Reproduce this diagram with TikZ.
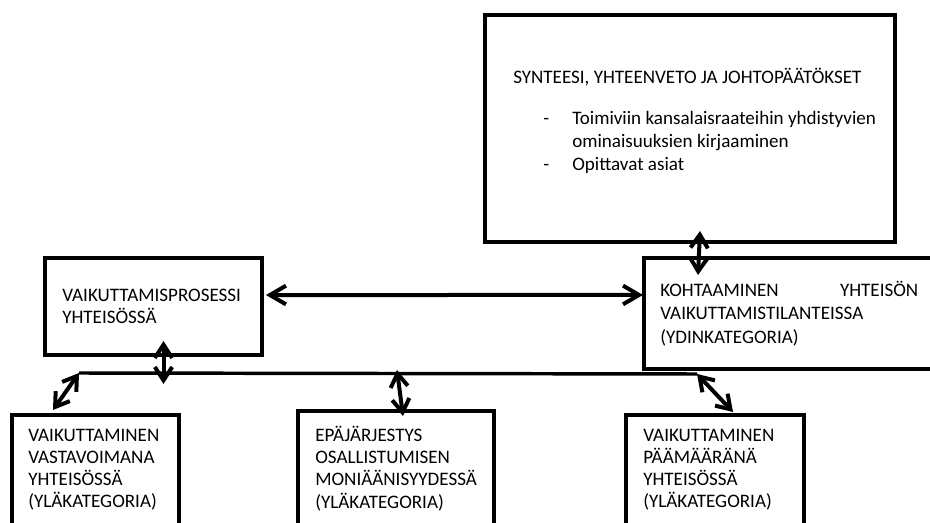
\documentclass[tikz,border=0pt]{standalone}
\usepackage{fontspec}
\setmainfont{Carlito}
\usetikzlibrary{arrows.meta}
\begin{document}
\begin{tikzpicture}[x=0.75pt,y=-0.75pt,
  box/.style={draw,line width=3pt,inner sep=0pt,anchor=north west,rectangle},
  txt/.style={inner sep=0pt,anchor=west,align=left,font=\fontsize{14.3pt}{16.6pt}\selectfont},
  txtwide/.style={inner sep=0pt,anchor=west,align=left,font=\fontsize{14.3pt}{17.4pt}\selectfont},
  dblS/.style={line width=3pt,{Straight Barb[length=10pt,width=13pt]}-{Straight Barb[length=10pt,width=13pt]}},
  dblL/.style={line width=3pt,{Straight Barb[length=12pt,width=14pt]}-{Straight Barb[length=12pt,width=14pt]}},
  busline/.style={line width=2.6pt}]
\useasboundingbox (0,0) rectangle (930,523);
\clip (0,0) rectangle (930,523);
\fill[white] (0,0) rectangle (930,523);

% boxes
\node[box,minimum width=307.5pt,minimum height=170.25pt] (syn) at (483,13) {};
\node[box,minimum width=162.75pt,minimum height=72.75pt] (proc) at (43,256) {};
\node[box,minimum width=225pt,minimum height=83.25pt] (koh) at (642,256) {};
\node[box,minimum width=125.25pt,minimum height=112.5pt] (b1) at (10,413) {};
\node[box,minimum width=147pt,minimum height=112.5pt] (b2) at (296,409) {};
\node[box,minimum width=133.5pt,minimum height=112.5pt] (b3) at (624,413) {};

% texts
\node[txtwide] (ts) at (513,121) {SYNTEESI, YHTEENVETO JA JOHTOPÄÄTÖKSET\\[13.4pt]
\makebox[44.25pt][l]{\hspace{22.5pt}-}Toimiviin kansalaisraateihin yhdistyvien\\
\hspace*{44.25pt}ominaisuuksien kirjaaminen\\
\makebox[44.25pt][l]{\hspace{22.5pt}-}Opittavat asiat};
\node[txt] (tp) at (62,306) {VAIKUTTAMISPROSESSI\\YHTEISÖSSÄ};
\node[txtwide,text width=193.5pt] (tk) at (660,313.5) {KOHTAAMINEN\hfill YHTEISÖN\\VAIKUTTAMISTILANTEISSA\\(YDINKATEGORIA)};
\node[txt] (t1) at (28,470) {VAIKUTTAMINEN\\VASTAVOIMANA\\YHTEISÖSSÄ\\(YLÄKATEGORIA)};
\node[txt] (t2) at (315,468.5) {EPÄJÄRJESTYS\\OSALLISTUMISEN\\MONIÄÄNISYYDESSÄ\\(YLÄKATEGORIA)};
\node[txt] (t3) at (643,470) {VAIKUTTAMINEN\\PÄÄMÄÄRÄNÄ\\YHTEISÖSSÄ\\(YLÄKATEGORIA)};

% bus
\coordinate (busL) at (79,373);
\coordinate (busR) at (697,374);
\draw[busline] (busL) -- (busR);

% connectors
\draw[dblS] ([xshift=7.5pt,yshift=9.75pt]syn.south) -- ([xshift=42pt,yshift=-14.25pt]koh.north west);
\draw[dblL] ([xshift=1.5pt,yshift=8.6pt]proc.east) -- ([xshift=0.75pt,yshift=13.9pt]koh.west);
\draw[dblS] ([xshift=7.5pt,yshift=12pt]proc.south) -- ([xshift=7.5pt,yshift=-20.25pt]proc.south);
\draw[dblS] (busL) -- ([xshift=32.25pt,yshift=2.25pt]b1.north west);
\draw[dblS] ([xshift=75.75pt,yshift=29.25pt]b2.north west) -- ([xshift=80.25pt,yshift=-5.25pt]b2.north west);
\draw[dblS] (busR) -- ([xshift=81.75pt,yshift=0.75pt]b3.north west);
\end{tikzpicture}
\end{document}
